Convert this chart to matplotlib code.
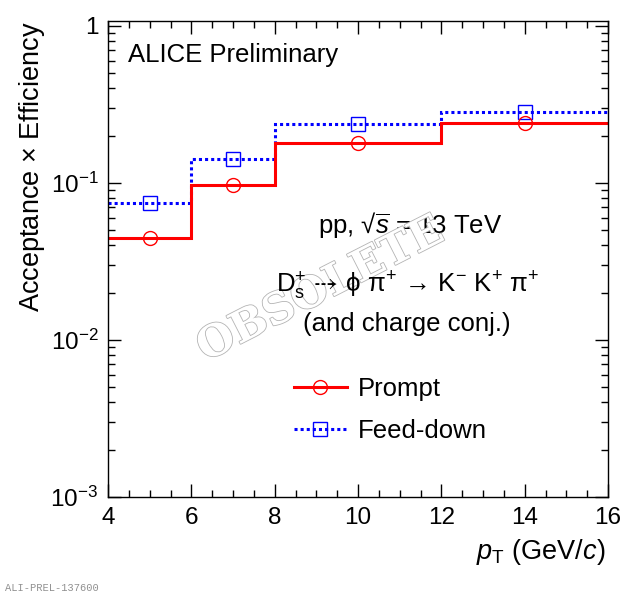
import numpy as np
import matplotlib
matplotlib.use("Agg")
import matplotlib.pyplot as plt
import matplotlib.patheffects as pe
from matplotlib.lines import Line2D
from matplotlib.ticker import LogLocator, MultipleLocator, NullFormatter

plt.rcParams['font.family'] = ['Liberation Sans', 'DejaVu Sans']
plt.rcParams['mathtext.fontset'] = 'custom'
plt.rcParams['mathtext.rm'] = 'Liberation Sans'
plt.rcParams['mathtext.it'] = 'Liberation Sans:italic'
plt.rcParams['mathtext.bf'] = 'Liberation Sans:bold'
plt.rcParams['mathtext.fallback'] = 'stix'

# --- Data ---
bin_edges = [4, 6, 8, 12, 16]
prompt_eff = [0.0447, 0.097, 0.179, 0.242]
feeddown_eff = [0.0743, 0.1415, 0.236, 0.282]

edges = np.array(bin_edges, dtype=float)
centers = 0.5 * (edges[:-1] + edges[1:])

fig = plt.figure(figsize=(6.28, 6.0), dpi=100)
ax = fig.add_axes([108 / 628, 103 / 600, 500 / 628, 476 / 600])

red = '#ff0000'
blue = '#0000ff'
fs = 18.5

ax.stairs(feeddown_eff, edges, color=blue, lw=2.2, ls=(0, (1, 1)), baseline=None)
ax.plot(centers, feeddown_eff, ls='none', marker='s', ms=9.5, mfc='none',
        mec=blue, mew=1.0)
ax.stairs(prompt_eff, edges, color=red, lw=2.2, baseline=None)
ax.plot(centers, prompt_eff, ls='none', marker='o', ms=10, mfc='none',
        mec=red, mew=1.0)

ax.set_xlim(4, 16)
ax.set_yscale('log')
ax.set_ylim(1e-3, 1.076)

ax.xaxis.set_major_locator(MultipleLocator(2))
ax.xaxis.set_minor_locator(MultipleLocator(0.5))
ax.yaxis.set_minor_locator(LogLocator(base=10, subs=np.arange(2, 10), numticks=20))
ax.yaxis.set_minor_formatter(NullFormatter())
ax.set_yticks([1e-3, 1e-2, 1e-1, 1])
ax.set_yticklabels([r'$10^{-3}$', r'$10^{-2}$', r'$10^{-1}$', '1'])

ax.tick_params(which='both', direction='in', top=True, right=True,
               labelsize=17.5, width=1)
ax.tick_params(which='major', length=9.5, pad=7)
ax.tick_params(which='minor', length=5)
for s in ax.spines.values():
    s.set_linewidth(1)

ax.set_ylabel(r'Acceptance $\times$ Efficiency', fontsize=19.5, loc='top')
ax.yaxis.set_label_coords(-0.122, 1.0)
ax.set_xlabel(r'$p_{\mathrm{T}}$ (GeV/$c$)', fontsize=19.5, loc='right')
ax.xaxis.set_label_coords(0.994, -0.085)

ax.text(0.04, 0.914, 'ALICE Preliminary', transform=ax.transAxes,
        fontsize=fs, ha='left', va='baseline')
ax.text(0.604, 0.555, r'pp, √$\overline{s}$ = 13 TeV', transform=ax.transAxes,
        fontsize=fs, ha='center', va='baseline', zorder=3)
ax.text(0.60, 0.429,
        r'$\mathrm{D}_{\mathrm{s}}^{+}\,\dashrightarrow\,\mathrm{\phi}\ \mathrm{\pi}^{+}'
        r'\,\rightarrow\,\mathrm{K}^{-}\ \mathrm{K}^{+}\ \mathrm{\pi}^{+}$',
        transform=ax.transAxes, fontsize=fs, ha='center', va='baseline',
        zorder=6)
ax.text(0.598, 0.349, '(and charge conj.)', transform=ax.transAxes,
        fontsize=fs, ha='center', va='baseline', zorder=6)

handles = [
    Line2D([], [], color=red, lw=2.2, marker='o', ms=10, mfc='none', mec=red),
    Line2D([], [], color=blue, lw=2.2, ls=(0, (1, 1)), marker='s', ms=9.5,
           mfc='none', mec=blue),
]
ax.legend(handles, ['Prompt', 'Feed-down'], loc='upper left',
          bbox_to_anchor=(0.372, 0.252), frameon=False, fontsize=fs,
          handlelength=2.06, handletextpad=0.43, labelspacing=0.68,
          borderpad=0, borderaxespad=0)

# watermark sits above the energy label but under the decay text
ax.text(0.51, 0.517, 'OBSOLETE', fontsize=31, rotation=27,
        transform=fig.transFigure, ha='center', va='center',
        family='DejaVu Serif', weight='bold', color='white', zorder=4,
        path_effects=[pe.Stroke(linewidth=1.2, foreground='#b4b4b4'),
                      pe.Normal()])

fig.text(0.008, 0.012, 'ALI-PREL-137600', fontsize=7.5, color='#909090',
         family='Liberation Mono', ha='left', va='bottom')

fig.savefig('out.png', dpi=100)
